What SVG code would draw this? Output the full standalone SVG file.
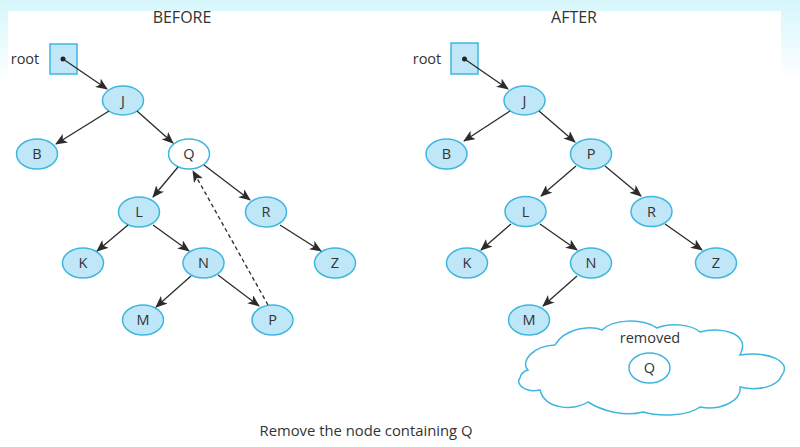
<svg xmlns="http://www.w3.org/2000/svg" width="800" height="447" viewBox="0 0 800 447">
<defs>
<linearGradient id="bg" x1="0" y1="0" x2="0" y2="1">
<stop offset="0" stop-color="#d6f6fb"/>
<stop offset="1" stop-color="#ffffff"/>
</linearGradient>
<marker id="ah" viewBox="0 0 12 10" refX="11" refY="5" markerWidth="12" markerHeight="10" markerUnits="userSpaceOnUse" orient="auto">
<path d="M0,0 L12,5 L0,10 L3,5 Z" fill="#2b2b2b"/>
</marker>
<style>
.n ellipse{fill:#bfe7f8;stroke:#3fb6df;stroke-width:1.5}
.w ellipse{fill:#ffffff;stroke:#3fb6df;stroke-width:1.5}
.n text,.w text,.t{font-family:"Open Sans","Liberation Sans",sans-serif;font-size:14.5px;fill:#333;text-anchor:middle}
.e line{stroke:#2b2b2b;stroke-width:1.3;marker-end:url(#ah)}
.box rect{fill:#bfe7f8;stroke:#3fb6df;stroke-width:1.5}
</style>
</defs>
<rect x="0" y="0" width="800" height="447" fill="#ffffff"/>
<rect x="0" y="0" width="800" height="80" fill="url(#bg)"/>
<rect x="8" y="11" width="773" height="436" fill="#ffffff"/>

<text class="t" x="182" y="23" style="font-size:16px">BEFORE</text>
<text class="t" x="574" y="23" style="font-size:16px">AFTER</text>
<text class="t" x="366" y="436" style="font-size:14.8px">Remove the node containing Q</text>

<!-- BEFORE -->
<g id="b-root" class="box">
<text class="t" x="25" y="64">root</text>
<rect x="50" y="44" width="27" height="30"/>
<circle cx="63" cy="59" r="2.5" fill="#222"/>
</g>
<g id="b-J" class="n"><ellipse cx="123" cy="100.5" rx="20.5" ry="14.5"/><text x="123" y="105.5">J</text></g>
<g id="b-B" class="n"><ellipse cx="37" cy="154" rx="20.5" ry="15"/><text x="37" y="159">B</text></g>
<g id="b-Q" class="w"><ellipse cx="189" cy="154" rx="20.5" ry="15"/><text x="189" y="159">Q</text></g>
<g id="b-L" class="n"><ellipse cx="139" cy="212" rx="20.5" ry="15"/><text x="139" y="217">L</text></g>
<g id="b-R" class="n"><ellipse cx="266" cy="212" rx="20.5" ry="15"/><text x="266" y="217">R</text></g>
<g id="b-K" class="n"><ellipse cx="83" cy="263" rx="20.5" ry="15"/><text x="83" y="268">K</text></g>
<g id="b-N" class="n"><ellipse cx="203.5" cy="263" rx="20.5" ry="15"/><text x="203.5" y="268">N</text></g>
<g id="b-Z" class="n"><ellipse cx="335" cy="263" rx="20.5" ry="15"/><text x="335" y="268">Z</text></g>
<g id="b-M" class="n"><ellipse cx="143" cy="320" rx="20.5" ry="15"/><text x="143" y="325">M</text></g>
<g id="b-P" class="n"><ellipse cx="272.5" cy="320" rx="20.5" ry="15"/><text x="272.5" y="325">P</text></g>

<!-- AFTER -->
<g id="a-root" class="box">
<text class="t" x="427" y="64">root</text>
<rect x="451" y="43" width="27" height="31"/>
<circle cx="464.5" cy="59" r="2.5" fill="#222"/>
</g>
<g id="a-J" class="n"><ellipse cx="524.5" cy="100.5" rx="20.5" ry="14.5"/><text x="524.5" y="105.5">J</text></g>
<g id="a-B" class="n"><ellipse cx="446.5" cy="154" rx="20.5" ry="15"/><text x="446.5" y="159">B</text></g>
<g id="a-P" class="n"><ellipse cx="591" cy="154" rx="20.5" ry="15"/><text x="591" y="159">P</text></g>
<g id="a-L" class="n"><ellipse cx="525.5" cy="211.5" rx="20.5" ry="15"/><text x="525.5" y="216.5">L</text></g>
<g id="a-R" class="n"><ellipse cx="651.5" cy="211.5" rx="20.5" ry="15"/><text x="651.5" y="216.5">R</text></g>
<g id="a-K" class="n"><ellipse cx="467" cy="263" rx="20.5" ry="15"/><text x="467" y="268">K</text></g>
<g id="a-N" class="n"><ellipse cx="591" cy="263" rx="20.5" ry="15"/><text x="591" y="268">N</text></g>
<g id="a-Z" class="n"><ellipse cx="716" cy="263" rx="20.5" ry="15"/><text x="716" y="268">Z</text></g>
<g id="a-M" class="n"><ellipse cx="529" cy="320" rx="20.5" ry="15"/><text x="529" y="325">M</text></g>

<g id="removed">
<path d="M528,370 C520,362 532,346 555,345 C565,328 590,325 602,330 C612,320 640,317 657,328 C672,322 692,325 700,332 C720,326 752,333 740,355 C770,351 792,362 782,375 C777,388 756,391 740,387 C742,401 720,411 700,407 C688,416 660,417 643,412 C625,417 602,411 588,402 C575,411 545,410 540,390 C525,393 515,384 520,378 C521,373 524,371 528,370 Z" fill="#ffffff" stroke="#3fb6df" stroke-width="1.5"/>
<text class="t" x="650" y="343">removed</text>
</g>
<g id="r-Q" class="w"><ellipse cx="649.5" cy="368" rx="20.5" ry="15"/><text x="649.5" y="373">Q</text></g>

<g id="connectors" class="e">
<line x1="63" y1="59" x2="107" y2="89"/>
<line x1="109" y1="111" x2="56" y2="144"/>
<line x1="137" y1="111" x2="173" y2="143"/>
<line x1="178" y1="167" x2="153" y2="197"/>
<line x1="204" y1="165" x2="250" y2="200"/>
<line x1="128" y1="225" x2="97" y2="251"/>
<line x1="153" y1="225" x2="189" y2="251"/>
<line x1="280" y1="225" x2="321" y2="251"/>
<line x1="191" y1="276" x2="156" y2="307"/>
<line x1="218" y1="275" x2="259" y2="306"/>
<line x1="268" y1="305" x2="193" y2="171" stroke-dasharray="4,3"/>

<line x1="464.5" y1="59" x2="508" y2="89"/>
<line x1="510" y1="111" x2="464" y2="141"/>
<line x1="539" y1="111" x2="575" y2="142"/>
<line x1="576" y1="166" x2="541" y2="196"/>
<line x1="605" y1="166" x2="641" y2="196"/>
<line x1="511" y1="224" x2="481" y2="250"/>
<line x1="540" y1="224" x2="577" y2="250"/>
<line x1="665" y1="224" x2="702" y2="250"/>
<line x1="577" y1="276" x2="543" y2="306"/>
</g>
</svg>
